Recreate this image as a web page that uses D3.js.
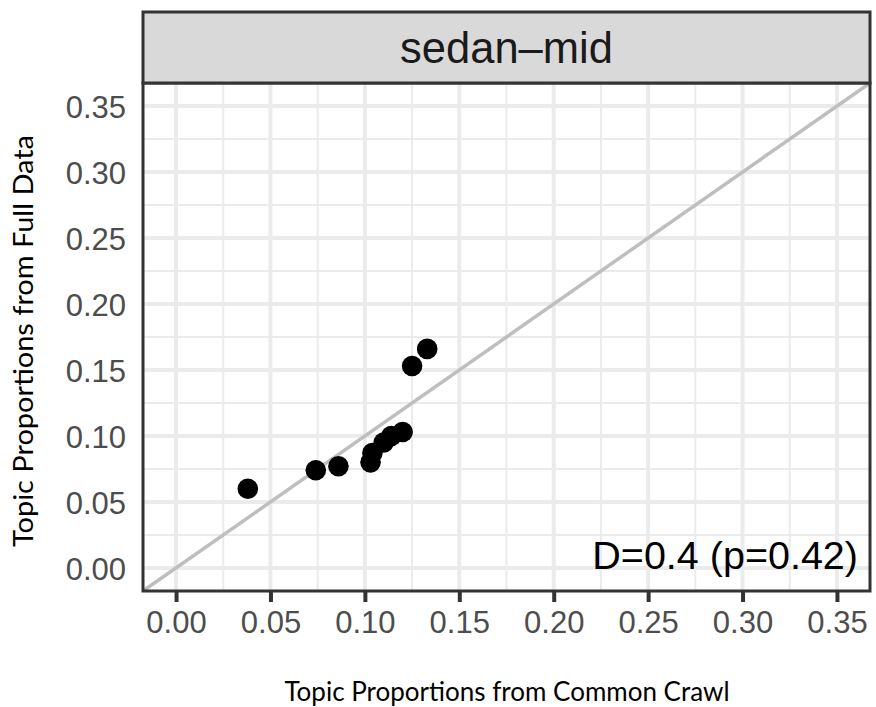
<!DOCTYPE html>
<html>
<head>
<meta charset="utf-8">
<script src="https://cdn.jsdelivr.net/npm/d3@7"></script>
<style>
  body { margin: 0; background: #fff; }
  svg { display: block; }
</style>
</head>
<body>
<div id="root"></div>
<script>
// values
var commonCrawl = [0.038, 0.074, 0.086, 0.103, 0.104, 0.110, 0.114, 0.120, 0.125, 0.133];
var fullData    = [0.060, 0.074, 0.077, 0.080, 0.087, 0.095, 0.100, 0.103, 0.153, 0.166];
var ticks = [0, 0.05, 0.10, 0.15, 0.20, 0.25, 0.30, 0.35];
var minorTicks = [0.025, 0.075, 0.125, 0.175, 0.225, 0.275, 0.325];
var stripLabel = "sedan\u2013mid";
var statLabel = "D=0.4 (p=0.42)";
var xTitle = "Topic Proportions from Common Crawl";
var yTitle = "Topic Proportions from Full Data";

var W = 876, H = 707;
var panel = {left: 143, right: 870, top: 83, bottom: 591};
var stripTop = 12;

var svg = d3.select("#root").append("svg")
  .attr("width", W).attr("height", H);

var x = d3.scaleLinear().domain([-0.0175, 0.3675]).range([panel.left, panel.right]);
var y = d3.scaleLinear().domain([-0.0175, 0.3675]).range([panel.bottom, panel.top]);

var pts = commonCrawl.map(function(d, i) { return {x: d, y: fullData[i]}; });

// clip for panel contents
svg.append("clipPath").attr("id", "clip")
  .append("rect")
  .attr("x", panel.left).attr("y", panel.top)
  .attr("width", panel.right - panel.left).attr("height", panel.bottom - panel.top);

var g = svg.append("g").attr("clip-path", "url(#clip)");

// grid, minor first
g.selectAll(".vminor").data(minorTicks).enter().append("line")
  .attr("x1", x).attr("x2", x).attr("y1", panel.top).attr("y2", panel.bottom)
  .attr("stroke", "#ebebeb").attr("stroke-width", 2);
g.selectAll(".hminor").data(minorTicks).enter().append("line")
  .attr("y1", y).attr("y2", y).attr("x1", panel.left).attr("x2", panel.right)
  .attr("stroke", "#ebebeb").attr("stroke-width", 2);
g.selectAll(".vmajor").data(ticks).enter().append("line")
  .attr("x1", x).attr("x2", x).attr("y1", panel.top).attr("y2", panel.bottom)
  .attr("stroke", "#ebebeb").attr("stroke-width", 4);
g.selectAll(".hmajor").data(ticks).enter().append("line")
  .attr("y1", y).attr("y2", y).attr("x1", panel.left).attr("x2", panel.right)
  .attr("stroke", "#ebebeb").attr("stroke-width", 4);

// y = x reference line
g.append("line")
  .attr("x1", x(-0.0175)).attr("y1", y(-0.0175))
  .attr("x2", x(0.3675)).attr("y2", y(0.3675))
  .attr("stroke", "#bebebe").attr("stroke-width", 3.5);

// points
g.selectAll("circle").data(pts).enter().append("circle")
  .attr("cx", function(d) { return x(d.x); })
  .attr("cy", function(d) { return y(d.y); })
  .attr("r", 10.3)
  .attr("fill", "#000");

// annotation
svg.append("text")
  .attr("x", 858).attr("y", 569)
  .attr("text-anchor", "end")
  .style("font-family", "'Liberation Sans', Arial, sans-serif")
  .style("font-size", "39.5px")
  .style("fill", "#000")
  .text(statLabel);

// panel border
svg.append("rect")
  .attr("x", panel.left).attr("y", panel.top)
  .attr("width", panel.right - panel.left).attr("height", panel.bottom - panel.top)
  .attr("fill", "none").attr("stroke", "#333").attr("stroke-width", 3);

// strip
svg.append("rect")
  .attr("x", panel.left).attr("y", stripTop)
  .attr("width", panel.right - panel.left).attr("height", panel.top - stripTop)
  .attr("fill", "#d9d9d9").attr("stroke", "#333").attr("stroke-width", 3);
svg.append("text")
  .attr("x", (panel.left + panel.right) / 2).attr("y", 63)
  .attr("text-anchor", "middle")
  .style("font-family", "'Liberation Sans', Arial, sans-serif")
  .style("font-size", "43.5px")
  .style("fill", "#1a1a1a")
  .text(stripLabel);

// x axis
var xAxis = d3.axisBottom(x).tickValues(ticks).tickSize(10).tickPadding(9)
  .tickFormat(d3.format(".2f"));
var gx = svg.append("g").attr("transform", "translate(0," + (panel.bottom + 1) + ")").call(xAxis);
gx.select(".domain").remove();
gx.selectAll(".tick line").attr("stroke", "#333").attr("stroke-width", 4);
gx.selectAll(".tick text")
  .style("font-family", "'Liberation Sans', Arial, sans-serif")
  .style("font-size", "31px")
  .attr("fill", "#4d4d4d")
  .attr("dy", "0.71em");

// y axis (no tick marks)
var yAxis = d3.axisLeft(y).tickValues(ticks).tickSize(0).tickPadding(17)
  .tickFormat(d3.format(".2f"));
var gy = svg.append("g").attr("transform", "translate(" + panel.left + ",0)").call(yAxis);
gy.select(".domain").remove();
gy.selectAll(".tick text")
  .style("font-family", "'Liberation Sans', Arial, sans-serif")
  .style("font-size", "31px")
  .attr("fill", "#4d4d4d")
  .attr("dy", "0.36em");

// axis titles
svg.append("text")
  .attr("x", 507).attr("y", 701)
  .attr("text-anchor", "middle")
  .style("font-family", "Lato, 'Open Sans', sans-serif")
  .style("font-size", "26px")
  .style("fill", "#000")
  .text(xTitle);
svg.append("text")
  .attr("transform", "translate(33,341) rotate(-90)")
  .attr("text-anchor", "middle")
  .attr("textLength", 412)
  .attr("lengthAdjust", "spacingAndGlyphs")
  .style("font-family", "Lato, 'Open Sans', sans-serif")
  .style("font-size", "26px")
  .style("fill", "#000")
  .text(yTitle);
</script>
</body>
</html>
